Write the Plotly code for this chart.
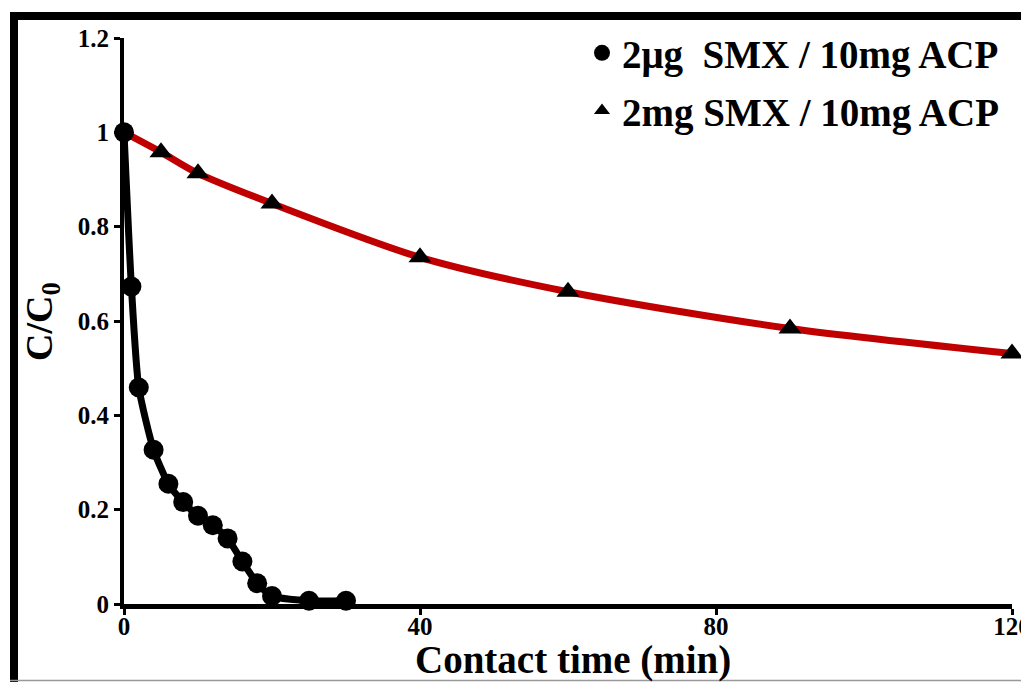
import plotly.graph_objects as go

# Data
time_low = [0, 1, 2, 4, 6, 8, 10, 12, 14, 16, 18, 20, 25, 30]
ratio_low = [1.0, 0.673, 0.459, 0.327, 0.255, 0.216, 0.187, 0.167, 0.139, 0.090, 0.044, 0.017, 0.007, 0.007]

time_high = [0, 5, 10, 20, 40, 60, 90, 120]
ratio_high = [1.0, 0.958, 0.913, 0.849, 0.735, 0.662, 0.584, 0.531]

name_low = "2μg  SMX / 10mg ACP"
name_high = "2mg SMX / 10mg ACP"

x_ticks = [0, 40, 80, 120]
y_ticks = [0, 0.2, 0.4, 0.6, 0.8, 1.0, 1.2]
y_tick_labels = ["0", "0.2", "0.4", "0.6", "0.8", "1", "1.2"]

x_title = "Contact time (min)"
y_title = "C/C<sub>0</sub>"

FONT = "Liberation Serif"

# page body has an 8px default margin; plot area kept at page px 124..1012 x 38..604
PW, PH = 888, 566

fig = go.Figure()

# red curve (high dose)
fig.add_trace(go.Scatter(
    x=time_high, y=ratio_high, mode="lines",
    line=dict(color="#c00000", width=7, shape="spline", smoothing=0.8),
    showlegend=False, cliponaxis=False,
))
fig.add_trace(go.Scatter(
    x=time_high[1:], y=ratio_high[1:], mode="markers",
    marker=dict(symbol="triangle-up", size=20, color="black"),
    showlegend=False, cliponaxis=False,
))
# black curve (low dose)
fig.add_trace(go.Scatter(
    x=time_low, y=ratio_low, mode="lines+markers",
    line=dict(color="black", width=7, shape="spline", smoothing=0.6),
    marker=dict(symbol="circle", size=20, color="black"),
    showlegend=False, cliponaxis=False,
))

# legend entries (markers only)
fig.add_trace(go.Scatter(
    x=[None], y=[None], mode="markers", name=name_low, legendgroup="a",
    marker=dict(symbol="circle", size=16, color="black"),
))
fig.add_trace(go.Scatter(
    x=[None], y=[None], mode="markers", name=name_high, legendgroup="b",
    marker=dict(symbol="triangle-up", size=14, color="black"),
))

fig.update_layout(
    width=1021, height=674,
    margin=dict(l=116, r=17, t=30, b=78),
    paper_bgcolor="white", plot_bgcolor="white",
    font=dict(family=FONT, color="black"),
    legend=dict(
        x=(582 - 124) / PW, y=(604 - 21) / PH, xanchor="left", yanchor="top",
        font=dict(family=FONT, size=39, color="black", weight="bold"),
        bgcolor="rgba(0,0,0,0)", tracegroupgap=4, traceorder="grouped",
        itemwidth=30,
    ),
    xaxis=dict(
        range=[0, 120], tickvals=x_ticks, ticktext=[str(v) for v in x_ticks],
        showgrid=False, zeroline=False, showline=True, linecolor="black", linewidth=5,
        ticks="outside", ticklen=6, tickwidth=3, tickcolor="black", automargin=False,
        ticklabeloverflow="allow", ticklabelstandoff=-10,
        tickfont=dict(family=FONT, size=25, color="black", weight="bold"),
    ),
    yaxis=dict(
        range=[0, 1.2], tickvals=y_ticks, ticktext=y_tick_labels,
        showgrid=False, zeroline=False, showline=True, linecolor="black", linewidth=4,
        ticks="outside", ticklen=6, tickwidth=3, tickcolor="black", automargin=False,
        tickfont=dict(family=FONT, size=25, color="black", weight="bold"),
    ),
    annotations=[
        dict(text=f"<b>{x_title}</b>", xref="paper", yref="paper",
             x=(573 - 124) / PW, y=(604 - 660) / PH, xanchor="center", yanchor="middle",
             showarrow=False, font=dict(family=FONT, size=39, color="black")),
        dict(text=f"<b>{y_title}</b>", xref="paper", yref="paper", textangle=-90,
             x=(42 - 124) / PW, y=(604 - 322) / PH, xanchor="center", yanchor="middle",
             showarrow=False, font=dict(family=FONT, size=38, color="black")),
    ],
    shapes=[
        # thick frame (left and top edges visible, others cropped)
        dict(type="line", xref="paper", yref="paper",
             x0=(14 - 124) / PW, x1=(14 - 124) / PW, y0=(604 - 12) / PH, y1=(604 - 690) / PH,
             line=dict(color="black", width=8)),
        dict(type="line", xref="paper", yref="paper",
             x0=(10 - 124) / PW, x1=(1040 - 124) / PW, y0=(604 - 16) / PH, y1=(604 - 16) / PH,
             line=dict(color="black", width=8)),
        dict(type="line", xref="paper", yref="paper",
             x0=(10 - 124) / PW, x1=(1040 - 124) / PW, y0=(604 - 680.5) / PH, y1=(604 - 680.5) / PH,
             line=dict(color="#999999", width=1.5)),
    ],
)

fig.write_html("out.html")
